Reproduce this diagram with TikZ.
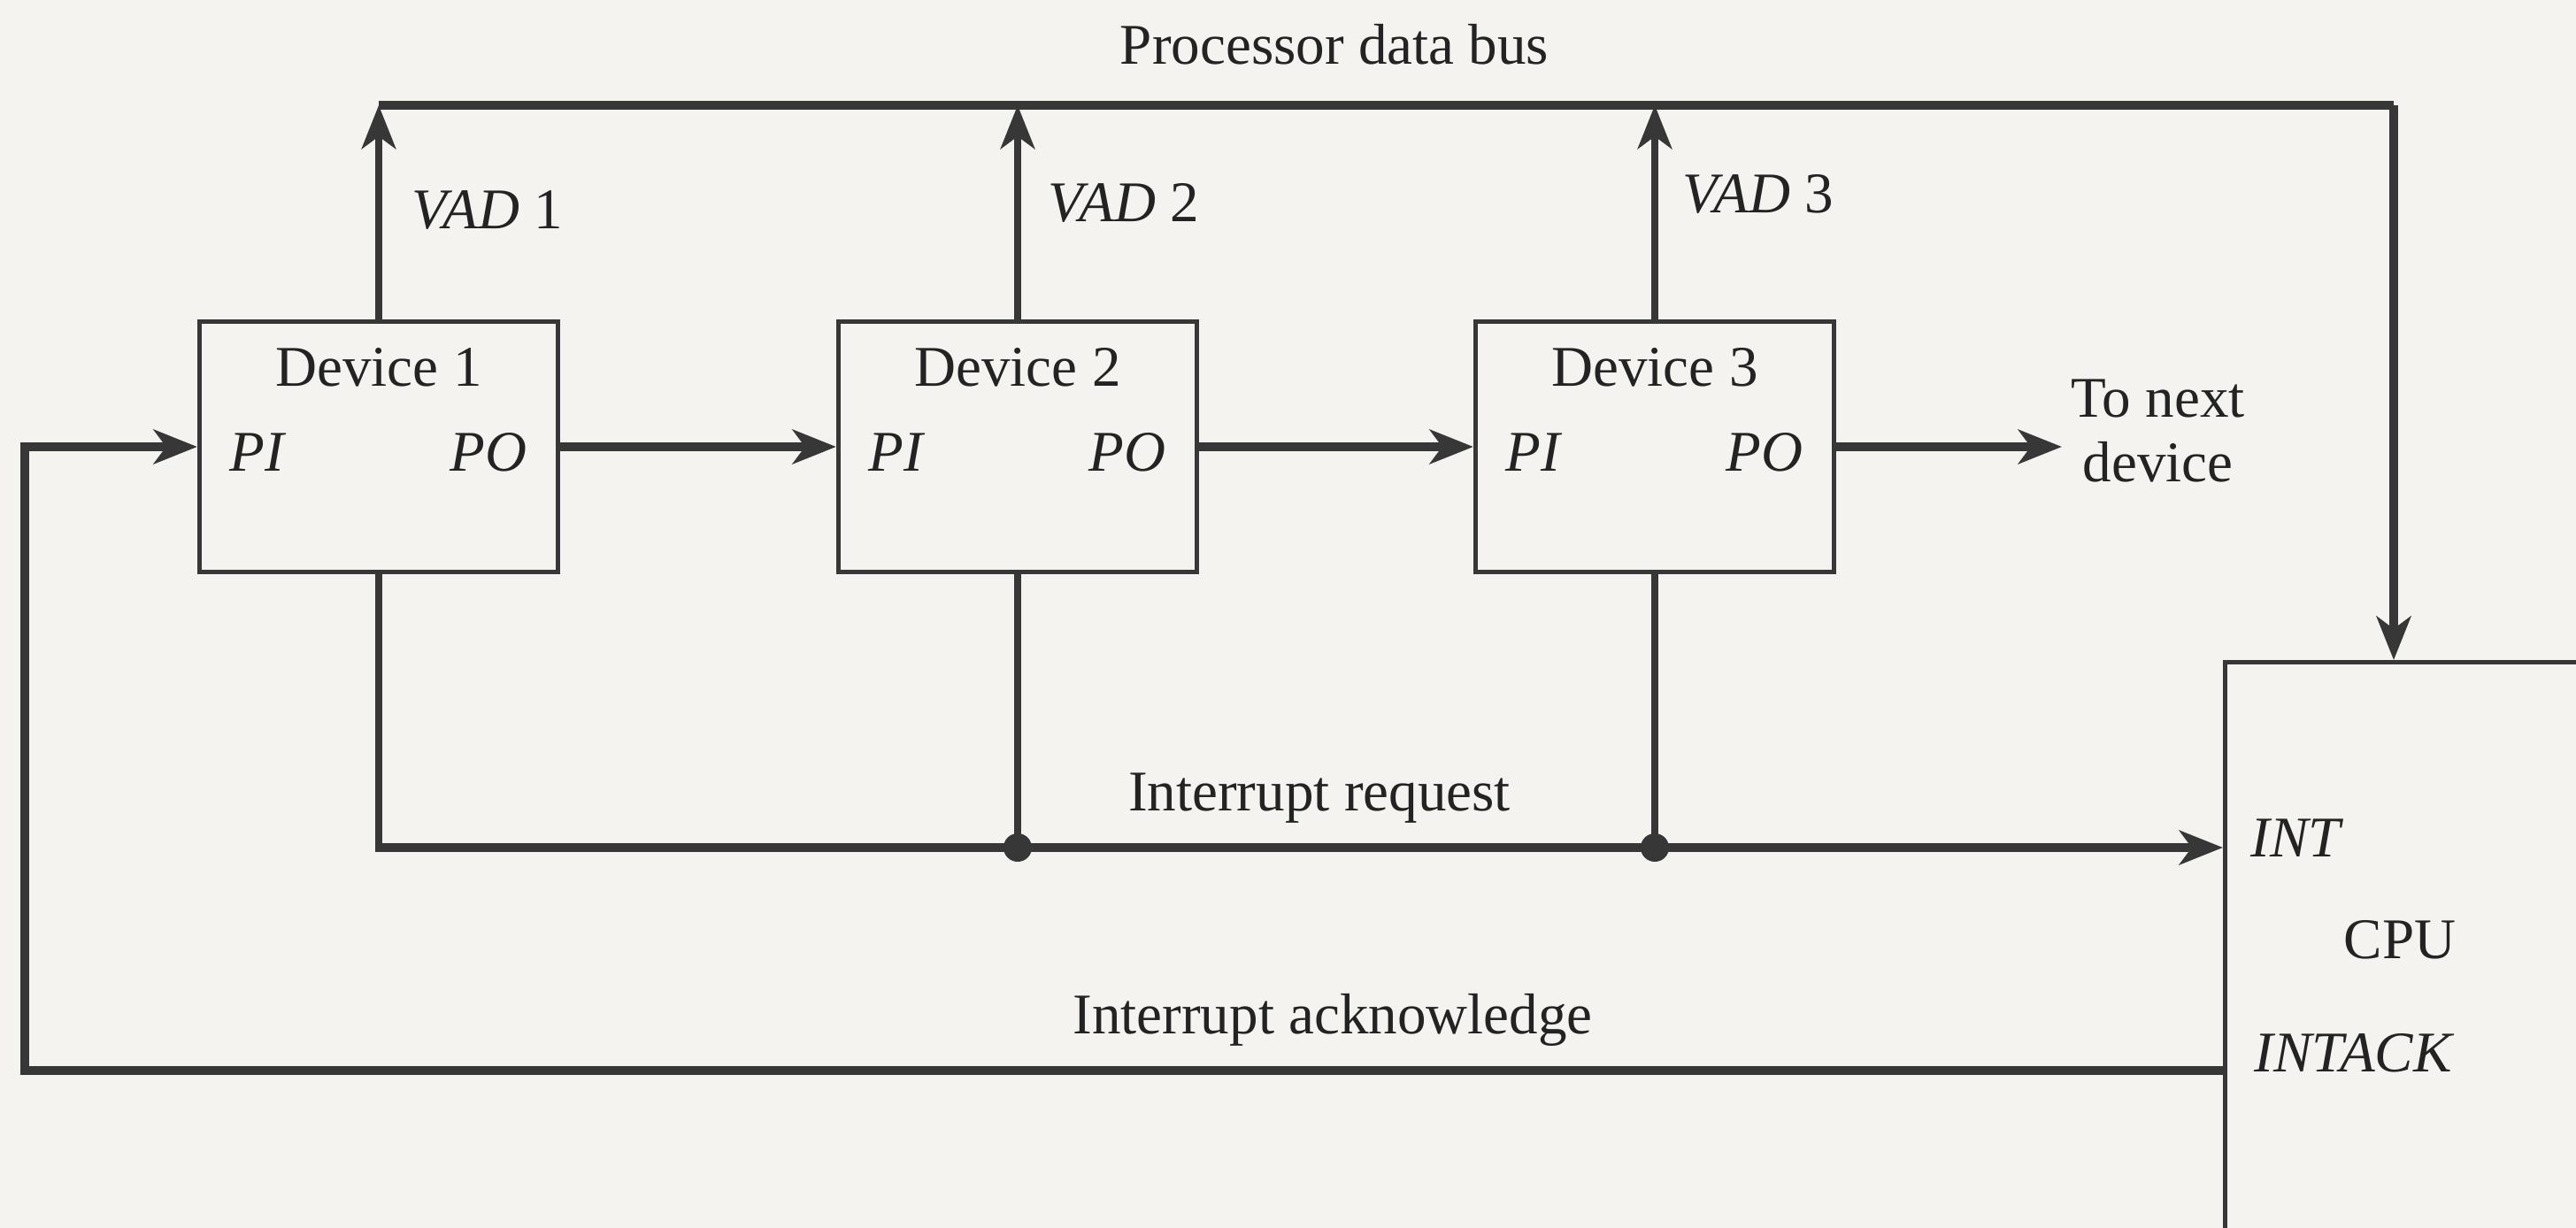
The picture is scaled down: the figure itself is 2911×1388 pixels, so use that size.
\documentclass[tikz,border=0pt]{standalone}
\usepackage{fontspec}
\setmainfont{Liberation Serif}
\usetikzlibrary{arrows.meta,calc}
\definecolor{bgc}{RGB}{244,243,240}
\definecolor{ink}{RGB}{55,55,55}
\definecolor{txt}{RGB}{35,35,35}
\begin{document}
\begin{tikzpicture}[x=0.01cm,y=-0.01cm,
  font=\fontsize{18.5}{20.5}\selectfont,
  devbox/.style={draw=ink,line width=1.4pt,minimum width=4.05cm,minimum height=2.82cm,inner sep=0pt},
  lbl/.style={text=txt,inner sep=0pt},
  bus/.style={draw=ink,line width=2.9pt,line join=miter},
  wire/.style={draw=ink,line width=2.2pt,line join=miter},
  tip/.style={-{Stealth[length=14pt,width=11pt,inset=4pt]}},
  jdot/.style={circle,fill=ink,minimum size=0.32cm,inner sep=0pt}]
\path[use as bounding box,fill=bgc] (0,0) rectangle (2911,1388);

% devices
\node[devbox] (d1) at (428,505) {};
\node[devbox] (d2) at (1150,505) {};
\node[devbox] (d3) at (1870,505) {};
\foreach \i in {1,2,3}{
  \node[lbl] (t\i) at ($(d\i.north)+(0,54)$) {Device \i};
  \node[lbl,anchor=west] (pi\i) at ($(d\i.west)+(36,6)$) {\itshape PI};
  \node[lbl,anchor=east] (po\i) at ($(d\i.east)+(-37,6)$) {\itshape PO};
}

% CPU
\begin{scope}
\clip (0,0) rectangle (2911,1388);
\node[draw=ink,line width=1.4pt,anchor=north west,minimum width=6cm,minimum height=8cm,inner sep=0pt] (cpu) at (2512,746) {};
\end{scope}
\node[lbl,anchor=west] (int) at (2543,947) {\itshape INT};
\node[lbl] (cpul) at (2712,1062) {CPU};
\node[lbl,anchor=west] (intack) at (2547,1190) {\itshape INTACK};

% coordinates
\coordinate (busR) at (2705,119);
\coordinate (busL) at (418,119);
\coordinate (reqL) at (423,958);
\coordinate (ackL) at (28,1210);
\coordinate (nxt) at (2330,505);

% processor data bus
\draw[bus] (d1.north |- busL) -- (busR);
\draw[bus,tip] (busR) -- (busR |- cpu.north);
\foreach \i in {1,2,3}{
  \draw[wire,tip] (d\i.north) -- (d\i.north |- busL);
}
\node[lbl] (pdb) at (1508,50) {Processor data bus};
\node[lbl,anchor=west] (v1) at ($(d1.north |- busL)+(37,119)$) {\itshape VAD\/\upshape~1};
\node[lbl,anchor=west] (v2) at ($(d2.north |- busL)+(34,110)$) {\itshape VAD\/\upshape~2};
\node[lbl,anchor=west] (v3) at ($(d3.north |- busL)+(31,100)$) {\itshape VAD\/\upshape~3};

% daisy chain
\draw[bus,tip] (d1.east) -- (d2.west);
\draw[bus,tip] (d2.east) -- (d3.west);
\draw[bus,tip] (d3.east) -- (nxt);
\node[lbl,align=center,anchor=west] (tonext) at (2340,487) {To next\\device};

% interrupt request
\draw[wire] (d1.south) -- (d1.south |- reqL);
\draw[bus,tip] ([xshift=-1.1pt]d1.south |- reqL) -- (cpu.west |- reqL);
\draw[wire] (d2.south) -- (d2.south |- reqL) node[jdot] (j2) {};
\draw[wire] (d3.south) -- (d3.south |- reqL) node[jdot] (j3) {};
\node[lbl] (irq) at (1491,902) {Interrupt request};

% interrupt acknowledge
\draw[bus,tip] (cpu.west |- ackL) -- (ackL) -- (ackL |- d1.west) -- (d1.west);
\node[lbl] (iack) at (1506,1153) {Interrupt acknowledge};
\end{tikzpicture}
\end{document}
